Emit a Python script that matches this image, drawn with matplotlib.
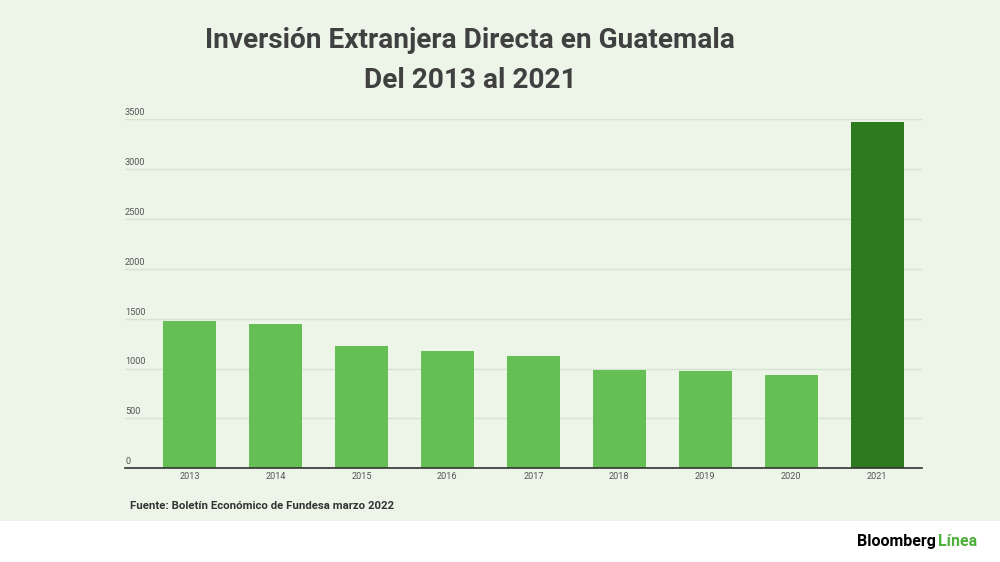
import matplotlib
matplotlib.use("Agg")
import matplotlib.pyplot as plt
from matplotlib.patches import Rectangle
from matplotlib.transforms import blended_transform_factory

plt.rcParams['font.family'] = ['Roboto', 'DejaVu Sans']

years = ['2013', '2014', '2015', '2016', '2017', '2018', '2019', '2020', '2021']
ied = [1476, 1443, 1230, 1176, 1130, 983, 976, 936, 3470]
yticks = [0, 500, 1000, 1500, 2000, 2500, 3000, 3500]

bg = '#ECF5E8'
light = '#66BF55'
dark = '#2E7B1F'

fig = plt.figure(figsize=(10, 5.62), dpi=100)
fig.patch.set_facecolor('white')
# green panel behind the chart
fig.patches.append(Rectangle((0, 0.073), 1, 0.927, transform=fig.transFigure,
                             facecolor=bg, edgecolor='none', zorder=-5))

ax = fig.add_axes([0.125, 0.1667, 0.797, 0.6216])
ax.set_facecolor('none')

colors = [light] * (len(years) - 1) + [dark]
x = range(len(years))
ax.bar(x, ied, width=0.62, color=colors, zorder=3)

ax.set_xlim(-0.75, 8.52)
ax.set_ylim(0, 3500)
ax.set_yticks(yticks)
ax.yaxis.grid(True, color='#D6E2D2', linewidth=1, zorder=0)
ax.set_axisbelow(True)
ax.tick_params(axis='y', length=0, labelleft=False)
ax.set_xticks(list(x))
ax.set_xticklabels(years, fontsize=6.6, color='#555555')
ax.tick_params(axis='x', length=0, pad=3)

for s in ['top', 'right', 'left']:
    ax.spines[s].set_visible(False)
ax.spines['bottom'].set_color('#333333')
ax.spines['bottom'].set_linewidth(1.2)
ax.spines['bottom'].set_zorder(4)

# y labels sit just above their gridline, on the left
tr = blended_transform_factory(ax.transAxes, ax.transData)
for v in yticks:
    ax.annotate(str(v), xy=(0, v), xycoords=tr, xytext=(0, 1.5),
                textcoords='offset points', ha='left', va='bottom',
                fontsize=6.6, color='#555555')

fig.text(0.47, 0.928, 'Inversión Extranjera Directa en Guatemala',
         ha='center', va='center', fontsize=20.2, fontweight='bold', color='#404040')
fig.text(0.47, 0.856, 'Del 2013 al 2021',
         ha='center', va='center', fontsize=20.2, fontweight='bold', color='#404040')

fig.text(0.130, 0.099, 'Fuente: Boletín Económico de Fundesa marzo 2022',
         ha='left', va='center', fontsize=8.2, fontweight='bold', color='#333333')

t1 = fig.text(0.857, 0.037, 'Bloomberg', ha='left', va='center',
              fontsize=11.5, fontweight='bold', color='#000000')
fig.canvas.draw()
bb = t1.get_window_extent()
fig.text(bb.x1 / fig.bbox.width + 0.002, 0.037, 'Línea', ha='left', va='center',
         fontsize=11.5, fontweight='bold', color='#4CB03A')

fig.savefig('out.png', dpi=100, facecolor=fig.get_facecolor())
